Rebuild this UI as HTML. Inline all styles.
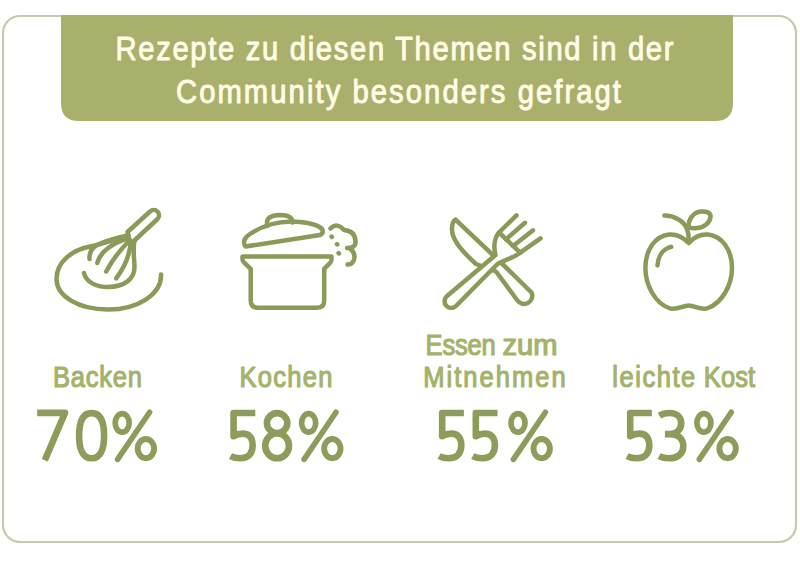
<!DOCTYPE html>
<html><head><meta charset="utf-8">
<style>
html,body{margin:0;padding:0;background:#fff;width:800px;height:562px;overflow:hidden}
svg{display:block}
text{font-family:"Liberation Sans",sans-serif}
</style></head>
<body>
<svg width="800" height="562" viewBox="0 0 800 562">
<rect x="3" y="16" width="793" height="526" rx="17" ry="17" fill="#fff" stroke="#c6c9ad" stroke-width="2.2"/>
<path d="M61 15 H733 V103 Q733 121 715 121 H79 Q61 121 61 103 Z" fill="#a9b06b"/>
<g fill="#fffbe6" stroke="#fffbe6" stroke-width="1" stroke-linejoin="round" font-size="34">
<text id="t1" transform="scale(0.86,1)" x="134.30" y="60.5" textLength="648.84" lengthAdjust="spacing">Rezepte zu diesen Themen sind in der</text>
<text id="t2" transform="scale(0.86,1)" x="204.65" y="103.5" textLength="517.44" lengthAdjust="spacing">Community besonders gefragt</text>
</g>
<g fill="#a5b26c" stroke="#a5b26c" stroke-width="1.2" stroke-linejoin="round" font-size="29">
<text id="l1" transform="scale(0.88,1)" x="60.23" y="387" textLength="101.14" lengthAdjust="spacing">Backen</text>
<text id="l2" transform="scale(0.88,1)" x="272.06" y="387" textLength="105.79" lengthAdjust="spacing">Kochen</text>
<text id="l3c" transform="scale(0.88,1)" x="483.54" y="355" textLength="79.87" lengthAdjust="spacing">Essen</text>
<text id="l3d" transform="scale(1,1)" x="502.40" y="355" textLength="55.00" lengthAdjust="spacingAndGlyphs">zum</text>
<text id="l3b" transform="scale(0.88,1)" x="481.03" y="386.8" textLength="161.71" lengthAdjust="spacing">Mitnehmen</text>
<text id="l4a" transform="scale(0.88,1)" x="695.78" y="387" textLength="94.27" lengthAdjust="spacing">leichte</text>
<text id="l4b" transform="scale(0.88,1)" x="799.78" y="387" textLength="58.36" lengthAdjust="spacing">Kost</text>
</g>
<g fill="none" stroke="#8d9c5b" stroke-width="6.6" stroke-linejoin="round" transform="translate(37.2,409.8)"><path d="M0 3.1 H27.8 L7.6 50.5"/></g>
<g fill="none" stroke="#8d9c5b" stroke-width="6.6" transform="translate(75.6,409.8)"><path d="M16 3.3 C24.5 3.3 28.5 11.5 28.5 25.9 C28.5 40.3 24.5 48.5 16 48.5 C7.5 48.5 3.5 40.3 3.5 25.9 C3.5 11.5 7.5 3.3 16 3.3 Z"/></g>
<g fill="none" stroke="#8d9c5b" stroke-width="6.6" stroke-linejoin="round" transform="translate(229.3,409.8)"><path d="M26 3.2 H4.3 V26.5 C7.5 24.5 10.5 23.8 13.5 23.8 C19.8 23.8 23.4 28 23.4 35.5 C23.4 44 18.5 48.5 11 48.5 C7 48.5 4 47.8 1.2 46.3"/></g>
<g fill="none" stroke="#8d9c5b" stroke-width="6.6" transform="translate(261.9,409.8)"><ellipse cx="15.2" cy="13.3" rx="10.2" ry="10"/><ellipse cx="15.2" cy="36" rx="11.9" ry="12.5"/></g>
<g fill="none" stroke="#8d9c5b" stroke-width="6.6" stroke-linejoin="round" transform="translate(437.9,409.8)"><path d="M26 3.2 H4.3 V26.5 C7.5 24.5 10.5 23.8 13.5 23.8 C19.8 23.8 23.4 28 23.4 35.5 C23.4 44 18.5 48.5 11 48.5 C7 48.5 4 47.8 1.2 46.3"/></g>
<g fill="none" stroke="#8d9c5b" stroke-width="6.6" stroke-linejoin="round" transform="translate(471.5,409.8)"><path d="M26 3.2 H4.3 V26.5 C7.5 24.5 10.5 23.8 13.5 23.8 C19.8 23.8 23.4 28 23.4 35.5 C23.4 44 18.5 48.5 11 48.5 C7 48.5 4 47.8 1.2 46.3"/></g>
<g fill="none" stroke="#8d9c5b" stroke-width="6.6" stroke-linejoin="round" transform="translate(625.9,409.8)"><path d="M26 3.2 H4.3 V26.5 C7.5 24.5 10.5 23.8 13.5 23.8 C19.8 23.8 23.4 28 23.4 35.5 C23.4 44 18.5 48.5 11 48.5 C7 48.5 4 47.8 1.2 46.3"/></g>
<g fill="none" stroke="#8d9c5b" stroke-width="6.6" stroke-linejoin="round" transform="translate(657.9,409.8)"><path d="M1.5 5.8 C4.5 4 8.5 3.2 12 3.2 C19 3.2 23.3 7.5 23.3 13.5 C23.3 20 18.5 24.3 12 24.3 H7 M12 24.3 C20.5 24.3 25.4 29 25.4 36.5 C25.4 44 19.5 48.5 11.5 48.5 C7.5 48.5 4 47.8 1.2 46.3"/></g>
<g fill="none" stroke="#8d9c5b"><ellipse cx="122.2" cy="422.9" rx="7" ry="9.2" stroke-width="5.7"/>
<ellipse cx="145.9" cy="448.6" rx="8.2" ry="9.6" stroke-width="5.9"/>
<path d="M149.6 412.2 L117.6 459.4" stroke-width="5.6" stroke-linecap="round"/></g>
<g fill="none" stroke="#8d9c5b" transform="translate(186.45,0)"><ellipse cx="122.2" cy="422.9" rx="7" ry="9.2" stroke-width="5.7"/>
<ellipse cx="145.9" cy="448.6" rx="8.2" ry="9.6" stroke-width="5.9"/>
<path d="M149.6 412.2 L117.6 459.4" stroke-width="5.6" stroke-linecap="round"/></g>
<g fill="none" stroke="#8d9c5b" transform="translate(395.8,0)"><ellipse cx="122.2" cy="422.9" rx="7" ry="9.2" stroke-width="5.7"/>
<ellipse cx="145.9" cy="448.6" rx="8.2" ry="9.6" stroke-width="5.9"/>
<path d="M149.6 412.2 L117.6 459.4" stroke-width="5.6" stroke-linecap="round"/></g>
<g fill="none" stroke="#8d9c5b" transform="translate(581.7,0)"><ellipse cx="122.2" cy="422.9" rx="7" ry="9.2" stroke-width="5.7"/>
<ellipse cx="145.9" cy="448.6" rx="8.2" ry="9.6" stroke-width="5.9"/>
<path d="M149.6 412.2 L117.6 459.4" stroke-width="5.6" stroke-linecap="round"/></g>
<g fill="none" stroke="#8a9a58" stroke-width="4.5" stroke-linecap="round" stroke-linejoin="round">
<!-- whisk -->
<path d="M161 274.5 C162 294 138 309.5 108 309.5 C78 309.5 56.5 296 56.5 279 C56.5 262 72 250 90 246.5 C104 243.5 118 238.5 128.5 235"/>
<path d="M84 273 C86 282 96 287 108 287 C124 287 135 279 134.5 266 C134 256 132.5 246 135 240"/>
<path d="M89.5 259 C89 252 92 248 97 245 C108 240 120 237 128.5 235.5"/>
<path d="M97.3 263 C100 252 112 243 129 238"/>
<path d="M106.2 271.5 C112 260 122 248 130 240"/>
<path d="M116.2 278.3 C124 268 130 254 131 241"/>
<path d="M127.5 232 L150 211.5 A4.9 4.9 0 0 1 157.5 219 L135.5 239.5"/>
<!-- pot -->
<path d="M242.5 256.6 H331.5 V259.5 Q331.5 261.5 330 263 L324.2 268.8 V300.5 Q324.2 307.7 317 307.7 H257.9 Q250.7 307.7 250.7 300.5 V268.8 L244.5 263 Q242.5 261.5 242.5 259.5 Z"/>
<path d="M245.5 246.5 L320 235 Q324 233 322 229 Q318 224 300 222 C280 220 262 226 250 234 Q241 240 245.5 246.5 Z"/>
<path d="M267 226 V222.5 Q267 215.5 279.5 215 Q292.5 215 292.5 222.5"/>
<path d="M330.5 228.5 Q337 222 344 230 Q356 231 355.5 243 Q355 248 347 248 M349 248 Q356 252 354 260 Q352 265 347.5 264.5"/>
<path d="M331.6 236.7 l0.3 0.3 M337 244.2 l0.3 0.3 M338.6 253.2 l0.3 0.3"/>
<!-- knife -->
<path fill="#fff" d="M455.5 219.6 L504 265.5 L531.5 292.5 A8.1 8.1 0 0 1 517.5 300.5 L496 271.5 L476 264 C464 253 451 240 452 228 Q452.5 221 455.5 219.6 Z"/>
<!-- fork -->
<path fill="#fff" d="M499 232.5 C494 238 493.5 248 495.5 255 L446.5 296.5 A6.7 6.7 0 0 0 456 306 L497.5 264 C503 260 512 259 520.2 252.7 Z"/>
<path d="M516.5 215.3 L499 232.5 M525 222.8 L506.07 239.23 M533 230.3 L513.13 245.97 M540.5 238.3 L520.2 252.7"/>
<!-- apple -->
<path d="M688.7 243 C695 236 702 234 708 234.5 C722 236 732 250 732 268 C732 285 722 303 708 308 C701 311 695 305.5 688.7 305.5 C682.4 305.5 676 311 669 308 C655 303 645.4 285 645.4 268 C645.4 250 655 236 669 234.5 C675 234 682 236 688.7 243 Z"/>
<path d="M664.4 215.6 C674 215.5 684 221 687 229 Q689 234 688.7 241"/>
<path d="M688.5 227.5 C688 220 693 212 701 211.5 C707 211 711 213 710.5 217 C710 223 703 228 697 228 Q692 228.5 688.5 227.5 Z"/>
<path d="M671.2 246.9 C663 249 658 256 657.5 265.5"/>
</g>
</svg>
</body></html>
